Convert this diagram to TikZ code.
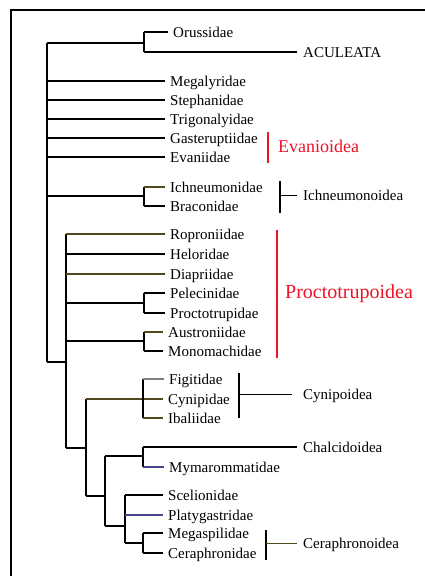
\documentclass[tikz,border=0pt]{standalone}
\usepackage{fontspec}
\setmainfont{Liberation Serif}
\definecolor{olive}{RGB}{80,74,30}
\definecolor{slate}{RGB}{70,70,140}
\definecolor{grpred}{RGB}{235,20,40}
\begin{document}
\begin{tikzpicture}[x=1pt,y=-1pt,
  br/.style={line width=2pt},
  brt/.style={line width=1.5pt},
  bar/.style={line width=1.2pt},
  leaf/.style={anchor=west,inner xsep=5pt,inner ysep=0pt,text height=13pt,text depth=3pt,font=\fontsize{15}{15}\selectfont},
  grp/.style={anchor=west,inner xsep=6pt,inner ysep=0pt,text height=13pt,text depth=3pt,font=\fontsize{15}{15}\selectfont}]
\useasboundingbox (0,0) rectangle (425,576);
\fill[white] (0,0) rectangle (425,576);
% frame
\draw[line width=2.5pt] (425,10) -- (11,10) -- (11,576);

% leaves
\node[leaf] (oru) at (168,32) {Orussidae};
\node[grp]  (acu) at (297,52) {ACULEATA};
\node[leaf] (meg) at (165,81) {Megalyridae};
\node[leaf] (ste) at (165,100) {Stephanidae};
\node[leaf] (tri) at (165,119) {Trigonalyidae};
\node[leaf] (gas) at (165,138) {Gasteruptiidae};
\node[leaf] (eva) at (165,157) {Evaniidae};
\node[leaf] (ich) at (165,187) {Ichneumonidae};
\node[leaf] (bra) at (165,206) {Braconidae};
\node[leaf] (rop) at (165,234) {Roproniidae};
\node[leaf] (hel) at (165,254) {Heloridae};
\node[leaf] (dia) at (165,274) {Diapriidae};
\node[leaf] (pel) at (165,293) {Pelecinidae};
\node[leaf] (pro) at (165,313) {Proctotrupidae};
\node[leaf] (aus) at (163,332) {Austroniidae};
\node[leaf] (mon) at (163,351) {Monomachidae};
\node[leaf] (fig) at (164,379) {Figitidae};
\node[leaf] (cyn) at (163,399) {Cynipidae};
\node[leaf] (iba) at (163,418) {Ibaliidae};
\node[grp]  (cha) at (297,447) {Chalcidoidea};
\node[leaf] (mym) at (164,467) {Mymarommatidae};
\node[leaf] (sce) at (163,495) {Scelionidae};
\node[leaf] (pla) at (163,515) {Platygastridae};
\node[leaf] (mes) at (163,533) {Megaspilidae};
\node[leaf] (cer) at (163,553) {Ceraphronidae};

% internal coordinates
\coordinate (R)  at (47,43);
\coordinate (Rb) at (47,362);
\coordinate (A)  at (144,43);
\coordinate (I)  at (144,196);
\coordinate (P)  at (66,362);
\coordinate (Pb) at (66,448);
\coordinate (PP) at (144,303);
\coordinate (PA) at (144,341);
\coordinate (C)  at (86,448);
\coordinate (Ct) at (86,399);
\coordinate (Cb) at (86,496);
\coordinate (Cy) at (143,399);
\coordinate (D)  at (105,496);
\coordinate (Dt) at (105,456);
\coordinate (Db) at (105,526);
\coordinate (Ch) at (143,456);
\coordinate (E)  at (125,526);
\coordinate (Eb) at (125,543);
\coordinate (Ce) at (143,543);

% root
\draw[br] (R) -- (Rb);
\draw[br] (R) -- (A);
\draw[br] (A |- oru.west) -- (A |- acu.west);
\draw[br] (A |- oru.west) -- (oru.west);
\draw[br] (A |- acu.west) -- (acu.west);
\draw[br] (R |- meg.west) -- (meg.west);
\draw[br] (R |- ste.west) -- (ste.west);
\draw[br] (R |- tri.west) -- (tri.west);
\draw[br] (R |- gas.west) -- (gas.west);
\draw[br] (R |- eva.west) -- (eva.west);
% ichneumonoids
\draw[br] (R |- I) -- (I);
\draw[br] (I |- ich.west) -- (I |- bra.west);
\draw[br,olive] (I |- ich.west) -- (ich.west);
\draw[br] (I |- bra.west) -- (bra.west);
% proctotrupoids and rest
\draw[br] (Rb) -- (P);
\draw[br] (P |- rop.west) -- (Pb);
\draw[brt,olive] (P |- rop.west) -- (rop.west);
\draw[brt] (P |- hel.west) -- (hel.west);
\draw[brt,olive] (P |- dia.west) -- (dia.west);
\draw[brt] (P |- PP) -- (PP);
\draw[br] (PP |- pel.west) -- (PP |- pro.west);
\draw[br] (PP |- pel.west) -- (pel.west);
\draw[brt] (PP |- pro.west) -- (pro.west);
\draw[brt] (P |- PA) -- (PA);
\draw[br] (PA |- aus.west) -- (PA |- mon.west);
\draw[brt,olive] (PA |- aus.west) -- (aus.west);
\draw[br] (PA |- mon.west) -- (mon.west);
% remaining clade
\draw[br] (Pb) -- (C);
\draw[br] (Ct) -- (Cb);
\draw[brt,olive] (Ct) -- (cyn.west);
\draw[br] (Cy |- fig.west) -- (Cy |- iba.west);
\draw[br,gray] (Cy |- fig.west) -- (fig.west);
\draw[brt,olive] (Cy |- iba.west) -- (iba.west);
\draw[br] (Cb) -- (D);
\draw[br] (Dt) -- (Db);
\draw[brt] (Dt) -- (Ch);
\draw[br] (Ch |- cha.west) -- (Ch |- mym.west);
\draw[br] (Ch |- cha.west) -- (cha.west);
\draw[br,slate] (Ch |- mym.west) -- (mym.west);
\draw[brt] (Db) -- (E);
\draw[br] (E |- sce.west) -- (Eb);
\draw[brt] (E |- sce.west) -- (sce.west);
\draw[brt,slate] (E |- pla.west) -- (pla.west);
\draw[br] (Eb) -- (Ce);
\draw[br] (Ce |- mes.west) -- (Ce |- cer.west);
\draw[br] (Ce |- mes.west) -- (mes.west);
\draw[br] (Ce |- cer.west) -- (cer.west);

% group labels
\draw[grpred,bar] (268,132) -- (268,163);
\node[anchor=west,inner xsep=0pt,text=grpred,font=\fontsize{18}{18}\selectfont] (evg) at (278,146) {Evanioidea};

\draw[bar] (280,181) -- (280,213);
\node[grp] (icg) at (297,195) {Ichneumonoidea};
\draw[line width=1pt] (280,195) -- (icg.west);

\draw[grpred,bar] (277,230) -- (277,358);
\node[anchor=base west,inner xsep=0pt,text=grpred,font=\fontsize{20}{20}\selectfont] (prg) at (285,298) {Proctotrupoidea};

\draw[bar] (239,373) -- (239,418);
\node[grp] (cyg) at (297,394) {Cynipoidea};
\draw[line width=1pt] (239,394) -- (292,394);

\draw[bar] (266,530) -- (266,560);
\node[grp] (ceg) at (297,543) {Ceraphronoidea};
\draw[line width=1pt,olive] (266,543) -- (ceg.west);
\end{tikzpicture}
\end{document}
